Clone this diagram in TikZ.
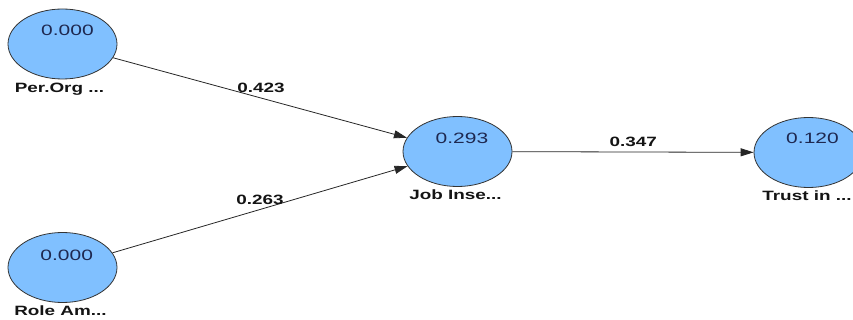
\documentclass[tikz,border=0pt]{standalone}
\usepackage{fontspec}
\setmainfont{Liberation Sans}
\newfontfamily\widefont[FakeStretch=1.4]{Liberation Sans}
\usetikzlibrary{arrows.meta,shapes.geometric}
\definecolor{lvfill}{RGB}{128,192,255}
\definecolor{lvtext}{RGB}{30,40,80}
\definecolor{lbltext}{RGB}{20,20,20}
\tikzset{
  lv/.style={ellipse, draw=black!80, line width=0.8pt, fill=lvfill, minimum width=109pt, minimum height=70pt, inner sep=0pt},
  val/.style={text=lvtext, font=\widefont\fontsize{15}{17}\selectfont, inner sep=0pt, anchor=base},
  lbl/.style={text=lbltext, font=\widefont\bfseries\fontsize{13.5}{15}\selectfont, inner sep=0pt, anchor=base},
  path/.style={draw=black!85, line width=0.8pt, -{Triangle[length=13pt,width=8pt]}},
  coef/.style={text=lbltext, font=\widefont\bfseries\fontsize{13.5}{15}\selectfont, inner sep=0pt, anchor=base}
}
\begin{document}
\begin{tikzpicture}[x=1pt,y=-1pt]
\useasboundingbox (0,0) rectangle (853,320);
\clip (0,0) rectangle (853,320);
\node[lv] (po) at (62.5,44) {};
\node[lv] (ra) at (62.5,267.5) {};
\node[lv] (ji) at (457.5,151.5) {};
\node[lv] (ti) at (808.5,152.5) {};
\node[val] (vpo) at (67.5,35.7) {0.000};
\node[val] (vra) at (66.7,260.5) {0.000};
\node[val] (vji) at (462,143.3) {0.293};
\node[val] (vti) at (812.5,144) {0.120};
\node[lbl] (lpo) at (59.5,92.3) {Per.Org ...};
\node[lbl] (lra) at (60.5,315.5) {Role Am...};
\node[lbl] (lji) at (455.5,199.8) {Job Inse...};
\node[lbl] (lti) at (807,200.5) {Trust in ...};
\draw[path] (po) -- (ji);
\draw[path] (ra) -- (ji);
\draw[path] (ji) -- (ti);
\node[coef] (c1) at (261,92.3) {0.423};
\node[coef] (c2) at (260,205) {0.263};
\node[coef] (c3) at (633.3,146.7) {0.347};
\end{tikzpicture}
\end{document}
